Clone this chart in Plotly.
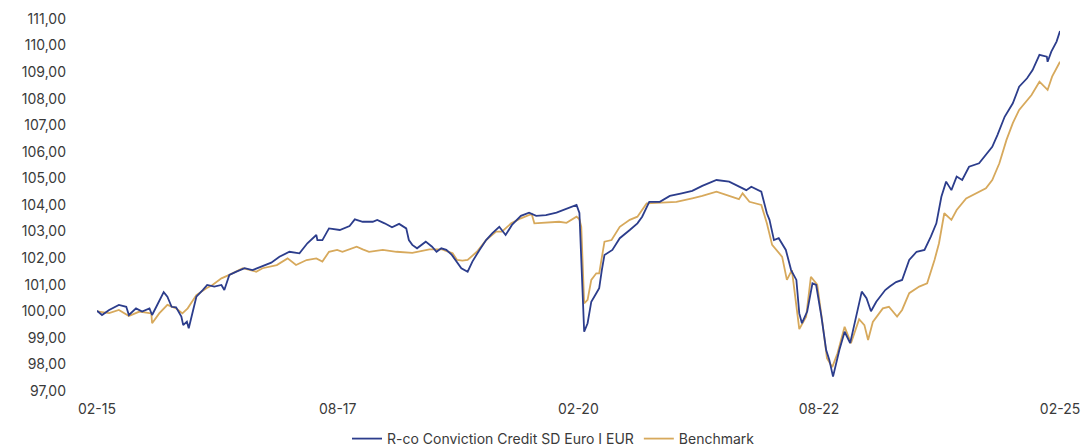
import plotly.graph_objects as go

fund_name = "R-co Conviction Credit SD Euro I EUR"
bench_name = "Benchmark"

fund_dates = [
    "2015-02-27", "2015-03-18", "2015-04-14", "2015-05-21", "2015-06-18", "2015-06-28",
    "2015-07-25", "2015-08-17", "2015-09-14", "2015-09-24", "2015-10-10", "2015-11-07",
    "2015-11-21", "2015-12-07", "2015-12-24", "2016-01-13", "2016-01-20", "2016-02-03",
    "2016-02-10", "2016-02-24", "2016-03-10", "2016-04-03", "2016-04-20", "2016-05-17",
    "2016-06-13", "2016-06-24", "2016-07-13", "2016-08-09", "2016-09-09", "2016-10-09",
    "2016-11-16", "2016-12-19", "2017-01-19", "2017-02-26", "2017-04-05", "2017-05-05",
    "2017-06-08", "2017-06-12", "2017-07-01", "2017-07-26", "2017-09-05", "2017-10-12",
    "2017-11-01", "2017-12-01", "2018-01-08", "2018-01-25", "2018-02-22", "2018-03-22",
    "2018-04-18", "2018-05-15", "2018-05-25", "2018-06-07", "2018-06-25", "2018-07-28",
    "2018-08-21", "2018-09-07", "2018-09-25", "2018-10-14", "2018-11-04", "2018-11-21",
    "2018-12-10", "2019-01-03", "2019-01-21", "2019-02-17", "2019-03-14", "2019-04-07",
    "2019-05-03", "2019-05-27", "2019-06-20", "2019-07-24", "2019-08-24", "2019-09-20",
    "2019-10-27", "2019-12-06", "2019-12-27", "2020-01-23", "2020-02-20", "2020-03-02",
    "2020-03-16", "2020-03-20", "2020-04-02", "2020-04-16", "2020-05-05", "2020-05-16",
    "2020-05-26", "2020-06-05", "2020-07-05", "2020-08-02", "2020-09-09", "2020-10-08",
    "2020-10-26", "2020-11-22", "2021-01-01", "2021-02-08", "2021-03-25", "2021-05-04",
    "2021-06-11", "2021-08-04", "2021-09-21", "2021-10-28", "2021-11-25", "2021-12-14",
    "2022-01-21", "2022-02-11", "2022-02-21", "2022-03-10", "2022-03-28", "2022-04-24",
    "2022-05-14", "2022-06-03", "2022-06-14", "2022-06-24", "2022-07-14", "2022-08-03",
    "2022-08-17", "2022-09-06", "2022-09-24", "2022-10-06", "2022-10-20", "2022-11-13",
    "2022-12-03", "2022-12-24", "2023-01-17", "2023-02-06", "2023-02-24", "2023-03-13",
    "2023-04-02", "2023-05-06", "2023-05-23", "2023-06-16", "2023-07-09", "2023-08-05",
    "2023-09-02", "2023-10-02", "2023-10-26", "2023-11-16", "2023-12-05", "2023-12-23",
    "2024-01-12", "2024-02-01", "2024-02-22", "2024-03-19", "2024-04-26", "2024-05-22",
    "2024-06-15", "2024-07-05", "2024-08-01", "2024-09-01", "2024-09-25", "2024-10-25",
    "2024-11-15", "2024-12-11", "2025-01-08", "2025-01-11", "2025-01-25", "2025-02-14",
    "2025-02-27",
]
fund_values = [
    100.02, 99.86, 100.05, 100.24, 100.17, 99.86,
    100.11, 99.99, 100.11, 99.86, 100.17, 100.72,
    100.55, 100.17, 100.15, 99.80, 99.48, 99.61,
    99.36, 99.92, 100.55, 100.80, 100.99, 100.93,
    100.99, 100.80, 101.37, 101.49, 101.62, 101.55,
    101.70, 101.83, 102.05, 102.24, 102.18, 102.56,
    102.87, 102.68, 102.68, 103.12, 103.06, 103.21,
    103.46, 103.37, 103.37, 103.44, 103.31, 103.16,
    103.29, 103.12, 102.68, 102.50, 102.37, 102.62,
    102.43, 102.24, 102.37, 102.31, 102.12, 101.87,
    101.62, 101.49, 101.87, 102.31, 102.68, 102.94,
    103.18, 102.87, 103.25, 103.59, 103.71, 103.59,
    103.62, 103.71, 103.79, 103.88, 104.00, 103.70,
    100.68, 99.23, 99.55, 100.36, 100.68, 100.87,
    101.55, 102.12, 102.31, 102.75, 103.06, 103.31,
    103.56, 104.12, 104.12, 104.34, 104.44, 104.53,
    104.72, 104.94, 104.88, 104.69, 104.56, 104.69,
    104.50, 103.69, 103.44, 102.68, 102.75, 102.31,
    101.55, 101.18, 99.92, 99.55, 99.99, 101.05,
    100.99, 99.80, 98.54, 98.17, 97.54, 98.54,
    99.23, 98.80, 99.92, 100.74, 100.49, 100.00,
    100.36, 100.80, 100.93, 101.10, 101.18, 101.93,
    102.24, 102.31, 102.81, 103.31, 104.31, 104.88,
    104.56, 105.07, 104.94, 105.44, 105.57, 105.88,
    106.19, 106.64, 107.32, 107.83, 108.45, 108.77,
    109.08, 109.65, 109.58, 109.39, 109.77, 110.15,
    110.55,
]

bench_dates = [
    "2015-02-27", "2015-04-14", "2015-05-21", "2015-06-28", "2015-08-07", "2015-09-21",
    "2015-09-24", "2015-10-21", "2015-11-21", "2015-12-24", "2016-01-17", "2016-02-06",
    "2016-03-10", "2016-04-17", "2016-05-10", "2016-06-13", "2016-07-13", "2016-09-02",
    "2016-10-23", "2016-11-16", "2017-01-09", "2017-02-19", "2017-03-23", "2017-05-02",
    "2017-06-08", "2017-07-01", "2017-07-26", "2017-08-26", "2017-09-15", "2017-11-08",
    "2017-12-01", "2017-12-25", "2018-02-15", "2018-04-08", "2018-06-07", "2018-08-11",
    "2018-09-28", "2018-11-07", "2018-11-24", "2018-12-14", "2019-01-03", "2019-02-07",
    "2019-03-14", "2019-04-21", "2019-05-13", "2019-06-17", "2019-07-24", "2019-09-03",
    "2019-09-13", "2019-10-27", "2019-12-16", "2020-01-13", "2020-02-20", "2020-03-02",
    "2020-03-09", "2020-03-20", "2020-04-02", "2020-04-16", "2020-05-05", "2020-05-16",
    "2020-06-05", "2020-07-02", "2020-08-02", "2020-09-09", "2020-10-08", "2020-11-12",
    "2021-01-01", "2021-03-05", "2021-05-04", "2021-06-11", "2021-08-04", "2021-09-21",
    "2021-10-28", "2021-11-11", "2021-12-07", "2022-01-21", "2022-02-11", "2022-03-03",
    "2022-04-10", "2022-04-28", "2022-05-17", "2022-06-14", "2022-07-10", "2022-07-28",
    "2022-08-21", "2022-09-10", "2022-09-27", "2022-10-17", "2022-11-06", "2022-12-03",
    "2022-12-27", "2023-01-27", "2023-02-16", "2023-03-02", "2023-03-20", "2023-04-27",
    "2023-05-20", "2023-06-20", "2023-07-09", "2023-08-05", "2023-09-12", "2023-10-12",
    "2023-11-09", "2023-11-26", "2023-12-16", "2024-01-12", "2024-02-01", "2024-03-08",
    "2024-04-15", "2024-05-22", "2024-06-15", "2024-07-12", "2024-08-08", "2024-09-01",
    "2024-09-25", "2024-10-22", "2024-11-11", "2024-12-11", "2025-01-11", "2025-01-28",
    "2025-02-27",
]
bench_values = [
    100.00, 99.93, 100.05, 99.82, 99.99, 99.92,
    99.55, 99.92, 100.24, 100.11, 99.92, 100.11,
    100.61, 100.87, 100.99, 101.24, 101.37, 101.62,
    101.49, 101.62, 101.74, 101.99, 101.74, 101.93,
    101.99, 101.87, 102.24, 102.31, 102.24, 102.43,
    102.33, 102.24, 102.31, 102.24, 102.20, 102.33,
    102.33, 102.18, 101.93, 101.91, 101.93, 102.24,
    102.68, 103.00, 103.00, 103.31, 103.50, 103.66,
    103.31, 103.33, 103.37, 103.33, 103.56, 103.46,
    103.18, 100.30, 100.43, 101.18, 101.43, 101.43,
    102.62, 102.68, 103.18, 103.44, 103.56, 104.06,
    104.09, 104.12, 104.25, 104.34, 104.50, 104.34,
    104.22, 104.44, 104.12, 104.00, 103.31, 102.50,
    102.05, 101.18, 101.55, 99.33, 99.80, 101.30,
    101.00, 99.55, 98.23, 97.90, 98.42, 99.42,
    98.80, 99.70, 99.48, 98.92, 99.60, 100.11,
    100.17, 99.80, 100.05, 100.68, 100.93, 101.05,
    101.93, 102.56, 103.69, 103.44, 103.81, 104.25,
    104.44, 104.63, 104.94, 105.57, 106.45, 107.08,
    107.58, 107.89, 108.14, 108.64, 108.33, 108.83,
    109.39,
]

x_tick_dates = ["2015-02-27", "2017-08-28", "2020-02-27", "2022-08-28", "2025-02-27"]
x_tick_labels = ["02-15", "08-17", "02-20", "08-22", "02-25"]
y_ticks = list(range(97, 112))
y_tick_labels = [f"{v},00" for v in y_ticks]

navy = "#2c3d8c"
gold = "#d7a95c"
text_color = "#3a3a3a"
font_family = "Inter"

fig = go.Figure()
fig.add_trace(go.Scatter(x=bench_dates, y=bench_values, mode="lines", name=bench_name,
                         line=dict(color=gold, width=1.8)))
fig.add_trace(go.Scatter(x=fund_dates, y=fund_values, mode="lines", name=fund_name,
                         line=dict(color=navy, width=1.8)))

# extra room at the bottom keeps the legend from shrinking the plot area
fig.update_layout(
    width=1082, height=480,
    margin=dict(l=97, r=22, t=19, b=89),
    paper_bgcolor="white", plot_bgcolor="white",
    font=dict(family=font_family, size=14, color=text_color),
    showlegend=True,
    legend=dict(orientation="h", x=0.2596, xanchor="left", y=-0.129, yanchor="middle",
                font=dict(size=14, color=text_color), traceorder="reversed",
                itemwidth=30, bgcolor="rgba(0,0,0,0)"),
)
fig.update_xaxes(type="date", range=[fund_dates[0], fund_dates[-1]],
                 tickmode="array", tickvals=x_tick_dates, ticktext=x_tick_labels,
                 showgrid=False, zeroline=False, showline=False, automargin=False,
                 ticks="", ticklabelstandoff=8)
fig.update_yaxes(range=[97, 111], tickmode="array", tickvals=y_ticks, ticktext=y_tick_labels,
                 showgrid=False, zeroline=False, showline=False, automargin=False,
                 ticks="", ticklabelstandoff=30)

fig.write_html(
    "out.html",
    config={"displayModeBar": False},
    post_script="document.body.style.margin='0';document.body.style.overflow='hidden';",
)
